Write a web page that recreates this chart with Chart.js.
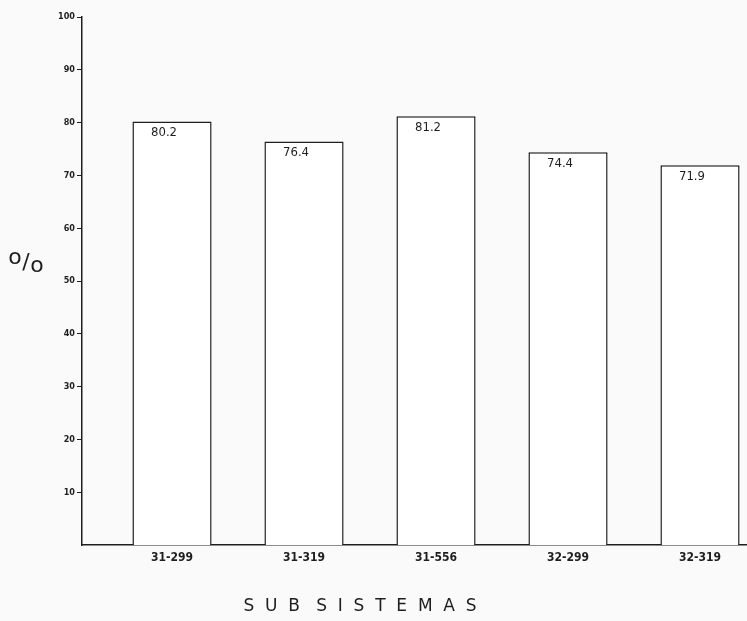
<!DOCTYPE html>
<html>
<head>
<meta charset="utf-8">
<script src="https://cdn.jsdelivr.net/npm/chart.js@4"></script>
<style>
  html, body { margin: 0; padding: 0; background: #fafafa; }
  #wrap { width: 747px; height: 621px; }
</style>
</head>
<body>
<div id="wrap"><canvas id="chart" width="747" height="621"></canvas></div>
<script>
// datos
const subsistemas = ['31-299', '31-319', '31-556', '32-299', '32-319'];
const porcentajes = [80.2, 76.4, 81.2, 74.4, 71.9];
const yTicks = [10, 20, 30, 40, 50, 60, 70, 80, 90, 100];

const ink = '#1e1e1e';

// textos extra: valores dentro de las barras y titulos horizontales
const textPlugin = {
    id: 'textos',
    afterDatasetsDraw(chart) {
        const ctx = chart.ctx;
        const meta = chart.getDatasetMeta(0);
        const y = chart.scales.y;
        ctx.save();
        ctx.fillStyle = ink;
        ctx.textAlign = 'center';
        ctx.textBaseline = 'top';
        ctx.font = '13px "DejaVu Sans Condensed", sans-serif';
        meta.data.forEach((bar, i) => {
            ctx.fillText(porcentajes[i].toFixed(1), bar.x - 8, bar.y + 5);
        });

        // "o/o" del eje vertical (porcentaje)
        const yc = y.getPixelForValue(50) - 18;
        ctx.font = '22px "DejaVu Sans", sans-serif';
        ctx.textBaseline = 'middle';
        ctx.fillText('o', 15, yc - 5);
        ctx.fillText('/', 26, yc);
        ctx.fillText('o', 37, yc + 3);

        // titulo del eje horizontal
        ctx.font = '17px "DejaVu Sans", sans-serif';
        ctx.textBaseline = 'top';
        ctx.fillText('S  U  B   S  I  S  T  E  M  A  S', 360, 598);
        ctx.restore();
    }
};

const ctx = document.getElementById('chart').getContext('2d');
new Chart(ctx, {
    type: 'bar',
    data: {
        datasets: [{
            data: porcentajes.map((v, i) => ({ x: i, y: v })),
            backgroundColor: '#ffffff',
            borderColor: ink,
            borderWidth: 1.5,
            borderSkipped: 'start',
            categoryPercentage: 1,
            barPercentage: 0.6
        }]
    },
    options: {
        responsive: false,
        animation: false,
        layout: { padding: { top: 17, right: 0, bottom: 0, left: 0 } },
        plugins: {
            legend: { display: false },
            tooltip: { enabled: false }
        },
        scales: {
            x: {
                type: 'linear',
                offset: false,
                min: -0.682,
                max: 4.356,
                afterBuildTicks: axis => {
                    axis.ticks = subsistemas.map((c, i) => ({ value: i }));
                },
                afterFit: scale => { scale.height = 76; },
                grid: { display: true, offset: false, drawOnChartArea: false, drawTicks: false },
                border: { display: true, color: ink, width: 1.5 },
                ticks: {
                    color: ink,
                    padding: 6,
                    maxRotation: 0,
                    font: { family: '"DejaVu Sans Condensed", sans-serif', size: 12, weight: 'bold' },
                    callback: v => subsistemas[v]
                }
            },
            y: {
                min: 0,
                max: 100,
                afterBuildTicks: axis => {
                    axis.ticks = yTicks.map(v => ({ value: v }));
                },
                afterFit: scale => { scale.width = 82; },
                grid: { display: true, drawOnChartArea: false, drawTicks: true, tickLength: 5, color: ink },
                border: { display: true, color: ink, width: 1.5 },
                ticks: {
                    color: ink,
                    padding: 2,
                    font: { family: '"DejaVu Sans Condensed", sans-serif', size: 9, weight: 'bold' }
                }
            }
        }
    },
    plugins: [textPlugin]
});
</script>
</body>
</html>
